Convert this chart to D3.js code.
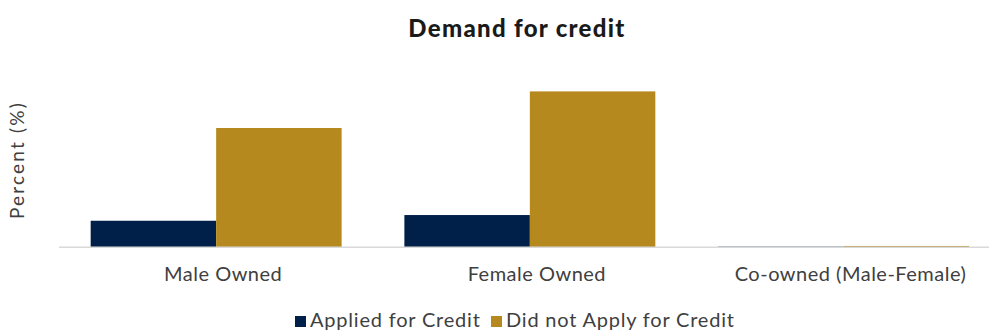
<!DOCTYPE html>
<html>
<head>
<meta charset="utf-8">
<script src="https://cdn.jsdelivr.net/npm/d3@7"></script>
<style>
  html, body { margin: 0; padding: 0; background: #ffffff; }
  svg { display: block; font-family: Lato, "Open Sans", sans-serif; }
</style>
</head>
<body>
<svg id="chart" width="989" height="333"></svg>
<script>
// Share of firms (%) by ownership type and credit demand
const categories = ["Male Owned", "Female Owned", "Co-owned (Male-Female)"];
const seriesNames = ["Applied for Credit", "Did not Apply for Credit"];
const applied = [7.9, 9.6, 0.2];
const notApplied = [35.5, 46.4, 0.4];
const seriesColors = ["#00204a", "#b5891e"];

const svg = d3.select("#chart");

const baseY = 247.3;
const x0 = d3.scaleBand().domain(categories).range([59.3, 1000.4])
  .paddingInner(0.2).paddingOuter(0.1);
const x1 = d3.scaleBand().domain(seriesNames).range([0, x0.bandwidth()]);
const y = d3.scaleLinear().domain([0, 50]).range([baseY, baseY - 168]);

const rows = categories.map((c, i) => ({ cat: c, vals: [applied[i], notApplied[i]] }));

// Title
svg.append("text")
  .attr("x", 517).attr("y", 37)
  .attr("text-anchor", "middle")
  .style("font-size", "24px").style("font-weight", 900)
  .style("letter-spacing", "1.3px")
  .attr("fill", "#1a1a1a")
  .text("Demand for credit");

// Axis title
svg.append("text")
  .attr("transform", "translate(24,160) rotate(-90)")
  .attr("text-anchor", "middle")
  .style("font-size", "19px")
  .style("letter-spacing", "2.2px")
  .attr("fill", "#404040")
  .text("Percent (%)");

// Bars
const groups = svg.append("g").selectAll("g").data(rows).join("g")
  .attr("transform", d => `translate(${x0(d.cat)},0)`);
groups.selectAll("rect")
  .data(d => d.vals.map((v, j) => ({ key: seriesNames[j], v, j })))
  .join("rect")
  .attr("x", d => x1(d.key))
  .attr("width", x1.bandwidth())
  .attr("y", d => y(d.v))
  .attr("height", d => baseY - y(d.v))
  .attr("fill", d => seriesColors[d.j]);

// Category axis
const xAxis = svg.append("g").attr("transform", `translate(0,${baseY})`)
  .call(d3.axisBottom(x0).tickSize(0).tickPadding(20));
xAxis.select(".domain").remove();
xAxis.append("line").attr("x1", 59).attr("x2", 989).attr("y1", 0).attr("y2", 0)
  .attr("stroke", "#d9d9d9").attr("stroke-width", 1.5);
xAxis.selectAll(".tick text")
  .attr("dx", 7)
  .style("font-size", "20px")
  .style("letter-spacing", "0.5px")
  .style("font-family", "Lato, 'Open Sans', sans-serif")
  .attr("fill", "#404040");

// Legend
const legend = svg.append("g").attr("transform", "translate(295,327)");
const legendX = [0, 196];
seriesNames.forEach((s, i) => {
  const g = legend.append("g").attr("transform", `translate(${legendX[i]},0)`);
  g.append("rect").attr("x", 0).attr("y", -11).attr("width", 11).attr("height", 11)
    .attr("fill", seriesColors[i]);
  g.append("text").attr("x", 15).attr("y", 0)
    .style("font-size", "20px").style("letter-spacing", "0.8px")
    .attr("fill", "#404040").text(s);
});
</script>
</body>
</html>
